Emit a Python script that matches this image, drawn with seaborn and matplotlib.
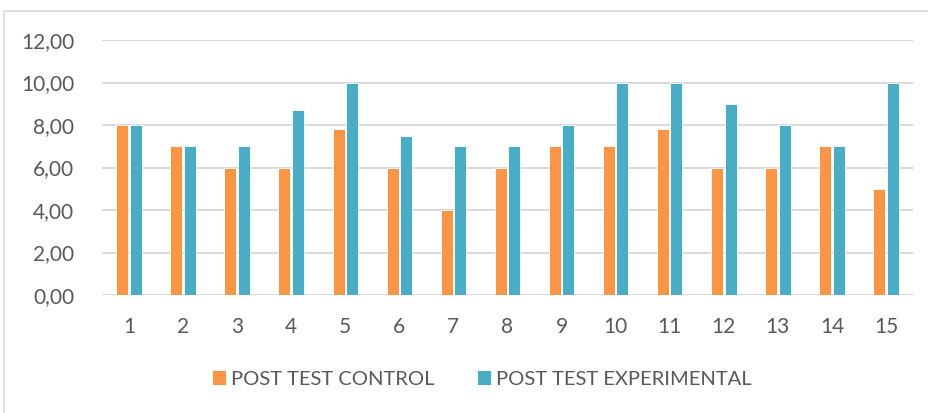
import seaborn as sns
import pandas as pd
import matplotlib.pyplot as plt
from matplotlib.patches import Rectangle

students = [str(i) for i in range(1, 16)]
control = [8, 7, 6, 6, 7.8, 6, 4, 6, 7, 7, 7.8, 6, 6, 7, 5]
experimental = [8, 7, 7, 8.7, 10, 7.5, 7, 7, 8, 10, 10, 9, 8, 7, 10]
series = ['POST TEST CONTROL', 'POST TEST EXPERIMENTAL']
colors = ['#F79646', '#4BACC6']

df = pd.DataFrame({
    'student': students * 2,
    'score': control + experimental,
    'serie': [series[0]] * 15 + [series[1]] * 15,
})

sns.set_style('white')
plt.rcParams['font.family'] = ['Lato', 'DejaVu Sans']
txt = '#595959'

fig = plt.figure(figsize=(9.29, 4.13), dpi=100)
ax = fig.add_axes([102 / 929, 1 - 295 / 413, 811 / 929, 255 / 413])

sns.barplot(data=df, x='student', y='score', hue='serie', palette=colors,
            saturation=1, width=0.5, gap=0.11, edgecolor='#FFFFFF',
            linewidth=0.6, ax=ax, zorder=3)

ax.set_ylim(0, 12)
ax.set_xlim(-0.5, 14.5)
ax.set_yticks(range(0, 13, 2))
ax.set_yticklabels([f'{v},00' for v in range(0, 13, 2)])
ax.yaxis.grid(True, color='#D9D9D9', lw=1.4, zorder=0)
ax.set_axisbelow(True)
for s in ax.spines.values():
    s.set_visible(False)
ax.tick_params(axis='both', length=0, labelsize=15, labelcolor=txt)
ax.tick_params(axis='y', pad=20)
ax.tick_params(axis='x', pad=16)
ax.set_xlabel('')
ax.set_ylabel('')

ax.legend(loc='center', bbox_to_anchor=(482 / 929, 1 - 379 / 413),
          bbox_transform=fig.transFigure, ncol=2, frameon=False,
          fontsize=14.5, labelcolor=txt, handlelength=0.7, handleheight=0.7,
          handletextpad=0.25, columnspacing=2.1)

fig.patches.append(Rectangle((4 / 929, -0.1), 1.1, 1 - 11 / 413 + 0.1,
                             transform=fig.transFigure, fill=False,
                             edgecolor='#D9D9D9', lw=1.2))

fig.savefig('out.png', dpi=100)
